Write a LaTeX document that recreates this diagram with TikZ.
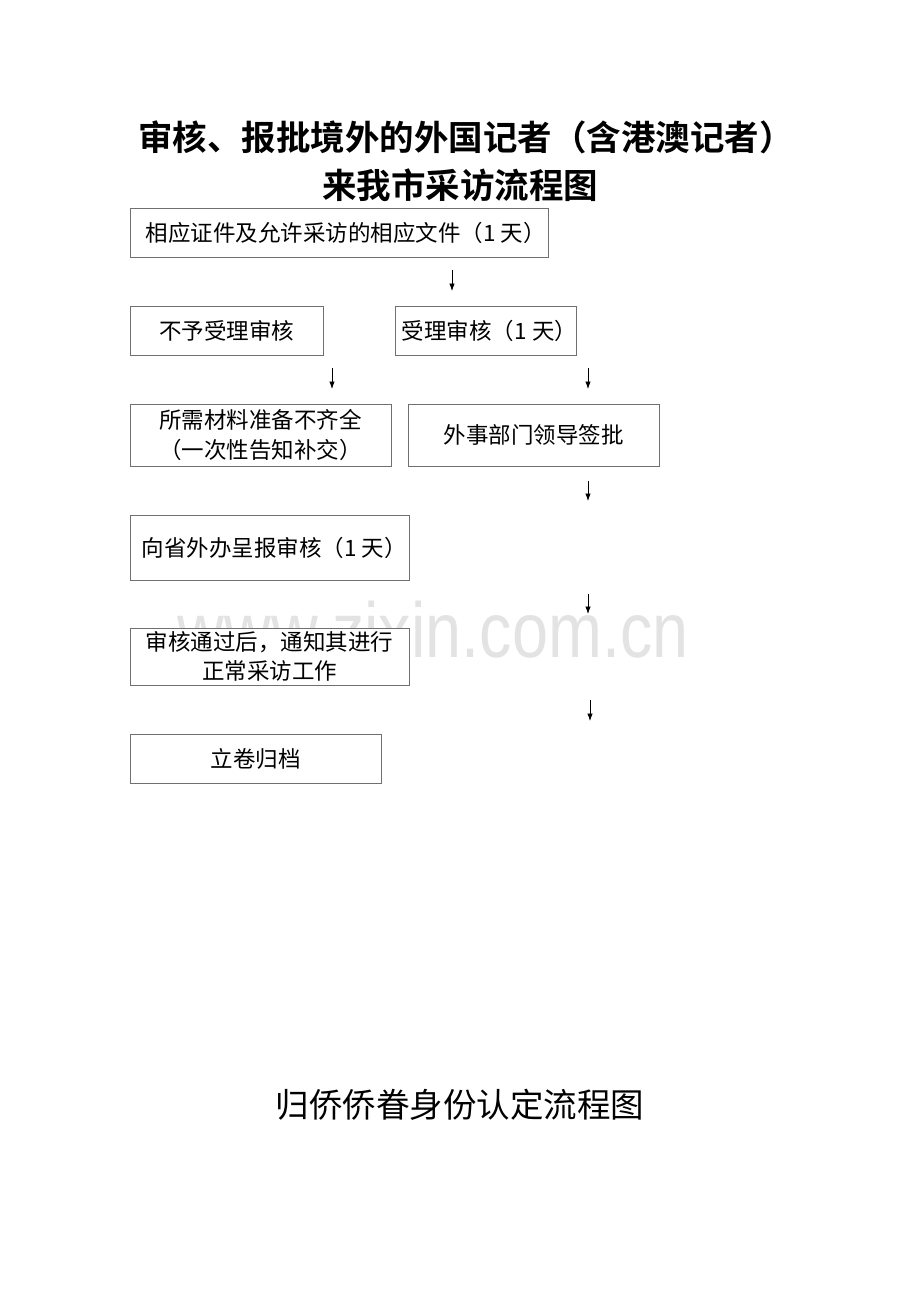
\documentclass[tikz,border=0pt]{standalone}
\usepackage{fontspec}
\newfontfamily\cjk{Noto Sans CJK SC}
\newfontfamily\cjkb{Noto Sans CJK SC Bold}
\setmainfont{Liberation Sans}
\usetikzlibrary{arrows.meta}
\definecolor{boxline}{HTML}{707070}
\definecolor{wmark}{HTML}{E3E3E3}
\tikzset{
  flowbox/.style={draw=boxline, line width=0.9pt, fill=white, inner sep=0pt, align=center,
    font=\cjk\fontsize{22.5}{29.5}\selectfont},
  flowarrow/.style={draw=black, line width=0.8pt, -{Latex[length=7.5pt,width=5.5pt]}},
}
\begin{document}
\begin{tikzpicture}[x=1pt,y=-1pt]
\useasboundingbox (0,0) rectangle (920,1302);
% watermark
\node[text=wmark, font=\fontsize{78}{80}\selectfont, xscale=0.83, anchor=center] (wm) at (433,630) {www.zixin.com.cn};
% titles
\node[font=\cjkb\fontsize{34.5}{40}\selectfont] (t1) at (466,137) {审核、报批境外的外国记者（含港澳记者）};
\node[font=\cjkb\fontsize{34.5}{40}\selectfont] (t2) at (460,185) {来我市采访流程图};
% boxes
\node[flowbox, minimum width=418, minimum height=49] (b1) at (339,232.5) {\hspace*{14pt}相应证件及允许采访的相应文件（1 天）};
\node[flowbox, minimum width=193, minimum height=49] (b2) at (226.5,330.5) {不予受理审核};
\node[flowbox, minimum width=181, minimum height=49] (b3) at (485.5,330.5) {\makebox[150pt][c]{\hspace*{8pt}受理审核（1 天）}};
\node[flowbox, minimum width=261, minimum height=62] (b4) at (260.5,435) {所需材料准备不齐全\\（一次性告知补交）};
\node[flowbox, minimum width=251, minimum height=62] (b5) at (533.5,435) {外事部门领导签批};
\node[flowbox, minimum width=279, minimum height=65] (b6) at (269.5,547.5) {\hspace*{10pt}向省外办呈报审核（1 天）};
\node[flowbox, minimum width=279, minimum height=57] (b7) at (269.5,656.5) {审核通过后，通知其进行\\正常采访工作};
\node[flowbox, minimum width=251, minimum height=49] (b8) at (255.5,758.5) {立卷归档};
% arrows
\coordinate (a1s) at (452,270); \coordinate (a1e) at (452,291);
\coordinate (a2s) at (332,368); \coordinate (a2e) at (332,389);
\coordinate (a3s) at (588,368); \coordinate (a3e) at (588,389);
\coordinate (a4s) at (588,481); \coordinate (a4e) at (588,501);
\coordinate (a5s) at (588,594); \coordinate (a5e) at (588,614);
\coordinate (a6s) at (590,700); \coordinate (a6e) at (590,721);
\draw[flowarrow] (a1s) -- (a1e);
\draw[flowarrow] (a2s) -- (a2e);
\draw[flowarrow] (a3s) -- (a3e);
\draw[flowarrow] (a4s) -- (a4e);
\draw[flowarrow] (a5s) -- (a5e);
\draw[flowarrow] (a6s) -- (a6e);
% bottom title
\node[font=\cjk\fontsize{33.5}{40}\selectfont] (t3) at (460,1105) {归侨侨眷身份认定流程图};
\end{tikzpicture}
\end{document}
